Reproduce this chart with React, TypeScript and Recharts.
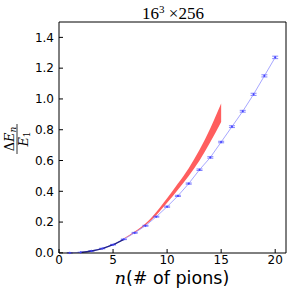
import React from "react";
import {
  Area,
  ComposedChart,
  ErrorBar,
  Line,
  XAxis,
  YAxis,
} from "recharts";

// blue lattice points
const nValues = [1, 2, 3, 4, 5, 6, 7, 8, 9, 10, 11, 12, 13, 14, 15, 16, 17, 18, 19, 20];
const blueValues = [0, 0.003, 0.012, 0.028, 0.053, 0.088, 0.13, 0.176, 0.235, 0.3, 0.37, 0.45, 0.54, 0.62, 0.72, 0.82, 0.92, 1.03, 1.15, 1.27];
const blueErr = [0.001, 0.001, 0.001, 0.002, 0.002, 0.002, 0.003, 0.003, 0.003, 0.004, 0.004, 0.004, 0.005, 0.005, 0.005, 0.006, 0.006, 0.007, 0.007, 0.008];

// red band
const bandN = [6, 7, 8, 9, 10, 11, 12, 13, 14, 15];
const bandLow = [0.09, 0.13, 0.18, 0.245, 0.325, 0.41, 0.5, 0.6, 0.72, 0.85];
const bandHigh = [0.095, 0.138, 0.19, 0.265, 0.355, 0.45, 0.55, 0.67, 0.81, 0.97];

// dark segment
const darkN = [2, 3, 4, 5, 6];
const darkValues = [0.003, 0.012, 0.028, 0.053, 0.088];

const xTicks = [0, 5, 10, 15, 20];
const yTicks = [0, 0.2, 0.4, 0.6, 0.8, 1.0, 1.2, 1.4];

const rows = nValues.map((n, i) => {
  const b = bandN.indexOf(n);
  const d = darkN.indexOf(n);
  return {
    n,
    blue: blueValues[i],
    err: blueErr[i],
    band: b >= 0 ? [bandLow[b], bandHigh[b]] : null,
    dark: d >= 0 ? darkValues[d] : null,
  };
});

const tickFont = { fontSize: 12, fill: "#000", fontFamily: "DejaVu Sans" };

export default function App() {
  return (
    <div style={{ position: "absolute", left: 0, top: 0, width: 294, height: 289 }}>
      <ComposedChart
        width={294}
        height={289}
        data={rows}
        margin={{ top: 21, right: 7, left: 19, bottom: 6 }}
      >
        <XAxis
          xAxisId="b"
          type="number"
          dataKey="n"
          domain={[0, 21]}
          ticks={xTicks}
          height={30}
          stroke="#000"
          tickSize={-4}
          tickMargin={6}
          tick={tickFont}
        />
        <XAxis
          xAxisId="t"
          orientation="top"
          type="number"
          dataKey="n"
          domain={[0, 21]}
          ticks={xTicks}
          height={1}
          stroke="#000"
          tickSize={-4}
          tick={false}
        />
        <YAxis
          yAxisId="l"
          type="number"
          domain={[0, 1.5]}
          ticks={yTicks}
          width={40}
          stroke="#000"
          tickSize={-4}
          tickMargin={9}
          tick={tickFont}
          tickFormatter={(v) => v.toFixed(1)}
        />
        <YAxis
          yAxisId="r"
          orientation="right"
          type="number"
          domain={[0, 1.5]}
          ticks={yTicks}
          width={1}
          stroke="#000"
          tickSize={-4}
          tick={false}
        />
        <Area
          xAxisId="b"
          yAxisId="l"
          dataKey="band"
          type="monotone"
          stroke="none"
          fill="#ff4d4d"
          fillOpacity={0.9}
          connectNulls={false}
          isAnimationActive={false}
        />
        <Line
          xAxisId="b"
          yAxisId="l"
          dataKey="blue"
          type="linear"
          stroke="#8f8fff"
          strokeWidth={0.8}
          dot={{ r: 0.8, fill: "#4040ff", stroke: "#4040ff", strokeWidth: 0.5 }}
          isAnimationActive={false}
        >
          <ErrorBar dataKey="err" width={3} stroke="#5050ff" strokeWidth={0.7} direction="y" />
        </Line>
        <Line
          xAxisId="b"
          yAxisId="l"
          dataKey="dark"
          type="monotone"
          stroke="#22228a"
          strokeWidth={1.3}
          dot={false}
          isAnimationActive={false}
        />
      </ComposedChart>
      <svg
        width={294}
        height={289}
        style={{ position: "absolute", left: 0, top: 0, pointerEvents: "none" }}
      >
        <text x={173} y={19} textAnchor="middle" fontFamily="Liberation Serif" fontSize={17}>
          <tspan>16</tspan>
          <tspan dy={-6} fontSize={11}>3</tspan>
          <tspan dy={6}>{"  ×256"}</tspan>
        </text>
        <g transform="translate(17,139) rotate(-90)" fontFamily="DejaVu Serif" fontStyle="italic">
          <text x={0} y={-3} textAnchor="middle" fontSize={13}>
            <tspan fontStyle="normal">Δ</tspan>
            <tspan>E</tspan>
            <tspan fontSize={9} dy={2}>n</tspan>
          </text>
          <line x1={-15} x2={15} y1={0} y2={0} stroke="#000" strokeWidth={0.8} />
          <text x={0} y={11} textAnchor="middle" fontSize={13}>
            <tspan>E</tspan>
            <tspan fontSize={9} dy={2} fontStyle="normal">1</tspan>
          </text>
        </g>
        <text x={172} y={284} textAnchor="middle" fontSize={17.5} fontFamily="DejaVu Sans">
          <tspan fontFamily="DejaVu Serif" fontStyle="italic">n</tspan>
          <tspan>(# of pions)</tspan>
        </text>
      </svg>
    </div>
  );
}
